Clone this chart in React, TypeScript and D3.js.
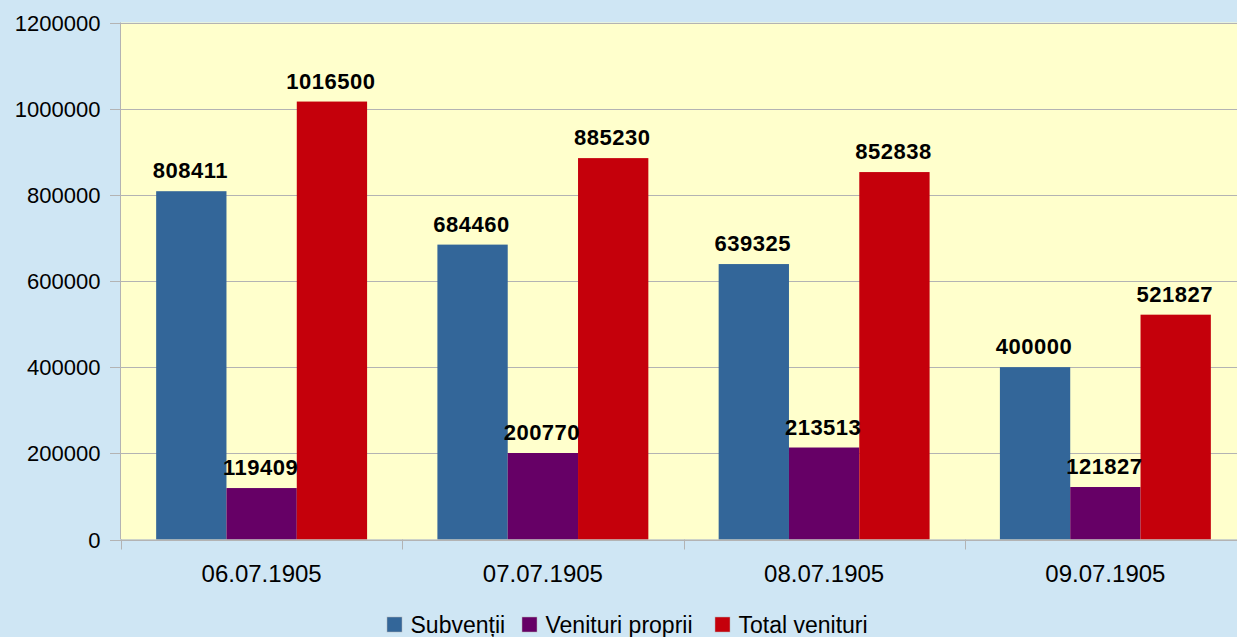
import React from "react";
import * as d3 from "d3";

const categories = ["06.07.1905", "07.07.1905", "08.07.1905", "09.07.1905"];
const seriesNames = ["Subvenții", "Venituri proprii", "Total venituri"];
const subventii = [808411, 684460, 639325, 400000];
const venituriProprii = [119409, 200770, 213513, 121827];
const totalVenituri = [1016500, 885230, 852838, 521827];
const yTicks = [0, 200000, 400000, 600000, 800000, 1000000, 1200000];
const colors = ["#336699", "#660066", "#c5000b"];

const W = 1237;
const H = 637;
const left = 121;
const right = 1246;
const top = 22.5;
const bottom = 539.5;
const font = "'Liberation Sans', Arial, sans-serif";

export default function App() {
  const series = [subventii, venituriProprii, totalVenituri];
  const x0 = d3.scaleBand<string>().domain(categories).range([left, right]).paddingInner(0.25).paddingOuter(0.125);
  const x1 = d3.scaleBand<number>().domain([0, 1, 2]).range([0, x0.bandwidth()]);
  const y = d3.scaleLinear().domain([0, 1200000]).range([bottom, top]);
  const step = x0.step();
  const boundaries = d3.range(categories.length + 1).map((i) => left + i * step);

  const legendX = [387, 522, 715];

  return (
    <svg width={W} height={H} style={{ position: "absolute", left: 0, top: 0, display: "block" }}>
      <rect x={0} y={0} width={W} height={H} fill="#cfe6f4" />
      <rect x={left} y={top} width={right - left} height={bottom - top} fill="#ffffcc" />
      {yTicks.map((t) => (
        <g key={t}>
          <line x1={left} x2={right} y1={Math.round(y(t)) + 0.5} y2={Math.round(y(t)) + 0.5} stroke="#b3b3b3" strokeWidth={1} />
          <line x1={110} x2={left} y1={Math.round(y(t)) + 0.5} y2={Math.round(y(t)) + 0.5} stroke="#b3b3b3" strokeWidth={1} />
          <text x={100.5} y={y(t) + 8} textAnchor="end" fontFamily={font} fontSize={22} fill="#000">
            {t}
          </text>
        </g>
      ))}
      {categories.map((c, ci) =>
        series.map((s, si) => (
          <rect
            key={c + si}
            x={(x0(c) as number) + (x1(si) as number)}
            y={y(s[ci])}
            width={x1.bandwidth()}
            height={bottom - y(s[ci])}
            fill={colors[si]}
          />
        ))
      )}
      <line x1={120.5} x2={120.5} y1={top} y2={bottom} stroke="#b3b3b3" strokeWidth={1} />
      <line x1={left} x2={right} y1={bottom + 0.5} y2={bottom + 0.5} stroke="#b3b3b3" strokeWidth={1} />
      {boundaries.map((b, i) => (
        <line key={i} x1={Math.round(b) + 0.5} x2={Math.round(b) + 0.5} y1={bottom} y2={bottom + 10} stroke="#b3b3b3" strokeWidth={1} />
      ))}
      {categories.map((c) => (
        <text key={c} x={(x0(c) as number) + x0.bandwidth() / 2} y={582} textAnchor="middle" fontFamily={font} fontSize={24} fill="#000">
          {c}
        </text>
      ))}
      {categories.map((c, ci) =>
        series.map((s, si) => (
          <text
            key={"l" + c + si}
            x={(x0(c) as number) + (x1(si) as number) + x1.bandwidth() / 2 - 1}
            y={y(s[ci]) - 13}
            textAnchor="middle"
            fontFamily={font}
            fontSize={22}
            fontWeight="bold"
            letterSpacing={0.5}
            fill="#000"
          >
            {s[ci]}
          </text>
        ))
      )}
      {seriesNames.map((n, i) => (
        <g key={n}>
          <rect x={legendX[i]} y={617} width={15} height={15} fill={colors[i]} stroke="#b3b3b3" strokeWidth={0.5} />
          <text x={legendX[i] + 23.5} y={633} fontFamily={font} fontSize={23} fill="#000">
            {n}
          </text>
        </g>
      ))}
    </svg>
  );
}
